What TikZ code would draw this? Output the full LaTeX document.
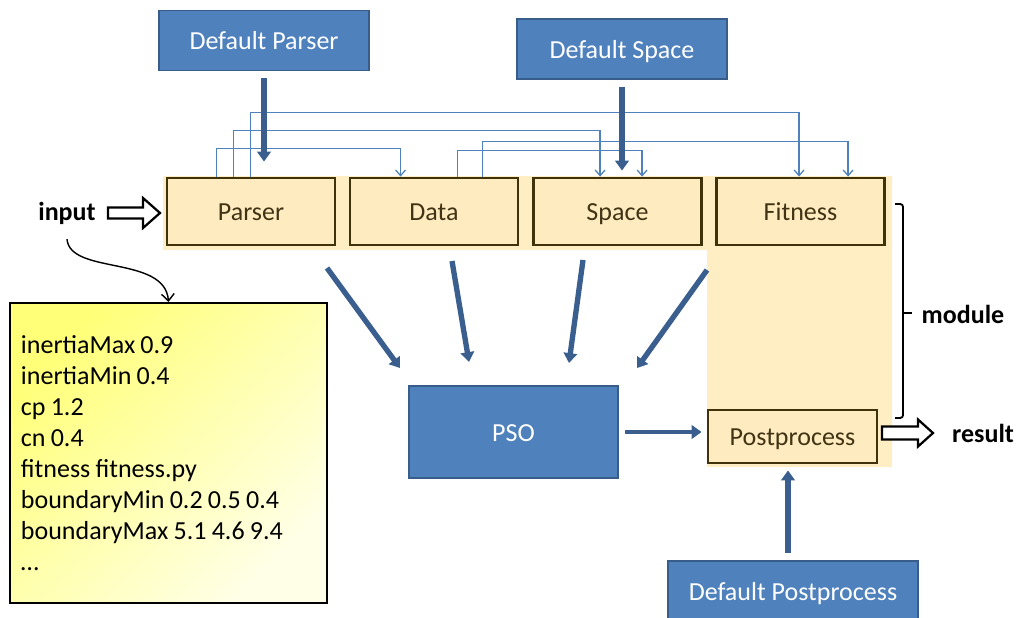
\documentclass[tikz,border=0pt]{standalone}
\usepackage{fontspec}
\setmainfont{Carlito}
\usetikzlibrary{arrows.meta,calc}

\definecolor{boxblue}{RGB}{79,129,189}
\definecolor{edgeblue}{RGB}{56,93,138}
\definecolor{feedblue}{RGB}{58,95,142}
\definecolor{linkblue}{RGB}{79,129,189}
\definecolor{band}{RGB}{255,238,196}
\definecolor{modfill}{RGB}{254,235,192}
\definecolor{modedge}{RGB}{64,50,10}
\definecolor{modtext}{RGB}{64,52,20}
\definecolor{notetop}{RGB}{255,255,120}
\definecolor{notebot}{RGB}{255,255,232}

\tikzset{
  txt/.style={font=\fontsize{18.5}{22}\selectfont},
  defbox/.style={txt,draw=edgeblue,fill=boxblue,line width=1.4pt,text=white,
    minimum width=5.25cm,minimum height=1.5cm,text height=17pt,text depth=4pt},
  modbox/.style={txt,draw=modedge,fill=modfill,line width=2pt,text=modtext,
    minimum width=4.2cm,minimum height=1.675cm,text height=17pt,text depth=4pt},
  note/.style={txt,draw=black,line width=1.4pt,top color=notetop,bottom color=notebot,
    shading angle=45,minimum width=7.925cm,minimum height=7.5cm,
    text width=7.375cm,inner xsep=0.275cm,align=left},
  link/.style={draw=linkblue,line width=0.9pt,-{Straight Barb[length=4pt,width=7pt]}},
  feed/.style={draw=feedblue,line width=3.8pt,-{Triangle[length=7pt,width=9.5pt]}},
  hollow/.style={draw=black,fill=white,line width=1.6pt,line join=miter},
  lbl/.style={font=\bfseries\fontsize{18.5}{22}\selectfont}
}

\begin{document}
\begin{tikzpicture}[x=0.025cm,y=-0.025cm]
  \useasboundingbox (0,0) rectangle (1017,617);
  \clip (0,0) rectangle (1017,617);

  % module area behind the boxes
  \fill[band] (163,176) -- (892,176) -- (892,467) -- (707,467) -- (707,250) -- (163,250) -- cycle;

  \node[defbox] (dparser) at (264,40.5) {Default Parser};
  \node[defbox] (dspace) at (622,49) {Default Space};
  \node[defbox,minimum width=6.25cm] (dpost) at (793,591) {Default Postprocess};

  \node[modbox] (parser) at (251,211.5) {Parser};
  \node[modbox] (data) at (434,211.5) {Data};
  \node[modbox] (space) at (617.5,211.5) {Space};
  \node[modbox] (fitness) at (800.5,211.5) {Fitness};
  \node[modbox,minimum width=4.225cm,minimum height=1.325cm] (post) at (792.5,436.5) {Postprocess};

  \node[defbox,minimum width=5.225cm,minimum height=2.3cm] (pso) at (513.5,432) {PSO};

  \node[note] (cfg) at (168.5,453) {\spaceskip=0.2em
    inertiaMax 0.9\\inertiaMin 0.4\\cp 1.2\\cn 0.4\\
    fitness fitness.py\\boundaryMin 0.2 0.5 0.4\\boundaryMax 5.1 4.6 9.4\\…};

  \node[lbl] (input) at (67,213) {input};
  \node[lbl] (result) at (983,433) {result};
  \node[lbl] (module) at (963,314) {module};

  % links between modules
  \draw[link] ($(parser.north west)+(51,0)$) -- ++(0,-28) -| ($(data.north west)+(52,0)$); %parser-data
  \draw[link] ($(parser.north west)+(68,0)$) -- ++(0,-46) -| ($(space.north west)+(68,0)$); %parser-space
  \draw[link] ($(parser.north west)+(85,0)$) -- ++(0,-64) -| ($(fitness.north west)+(84,0)$); %parser-fitness
  \draw[link] ($(data.north west)+(109,0)$) -- ++(0,-26) -| ($(space.north west)+(110,0)$); %data-space
  \draw[link] ($(data.north west)+(134,0)$) -- ++(0,-35) -| ($(fitness.north west)+(133,0)$); %data-fitness

  % defaults into modules
  \draw[feed,shorten <=0.175cm,shorten >=0.375cm] (dparser.south) -- (dparser.south |- parser.north);
  \draw[feed,shorten <=0.175cm,shorten >=0.15cm] (dspace.south) -- (dspace.south |- space.north);
  \draw[feed,shorten <=0.175cm,shorten >=0.15cm] (dpost.north -| 788,0) -- (post.south -| 788,0);

  % modules into pso
  \coordinate (parserout) at (327,268);
  \coordinate (dataout) at (452,261);
  \coordinate (spaceout) at (583,260);
  \coordinate (fitnessout) at (707,270);
  \coordinate (psoin1) at (400,368);
  \coordinate (psoin2) at (469,362);
  \coordinate (psoin3) at (569,363);
  \coordinate (psoin4) at (637,368);
  \draw[feed] (parserout) -- (psoin1);
  \draw[feed] (dataout) -- (psoin2);
  \draw[feed] (spaceout) -- (psoin3);
  \draw[feed] (fitnessout) -- (psoin4);
  \draw[feed,line width=3.2pt,shorten <=0.15cm,shorten >=0.125cm] (pso.east) -- (pso.east -| post.west);

  % input and result
  \coordinate (inarr) at (108,213);
  \coordinate (outarr) at (882,433);
  \draw[hollow] (inarr) ++(0,-5.5) -- ++(35,0) -- ++(0,-9.5) -- ++(17,15) -- ++(-17,15)
    -- ++(0,-9.5) -- ++(-35,0) -- cycle;
  \draw[hollow] (outarr) ++(0,-6.5) -- ++(36,0) -- ++(0,-7) -- ++(15,13.5) -- ++(-15,13.5)
    -- ++(0,-7) -- ++(-36,0) -- cycle;
  \draw[line width=1pt,-{Straight Barb[length=5pt,width=9pt]}] ($(input.south)+(0,10)$)
    .. controls (70,275) and (165,255) .. (cfg.north);

  % bracket round the modules
  \draw[line width=1.3pt,rounded corners=2pt] (895,204) -- (903,204) -- (903,418) -- (895,418);
  \draw[line width=1.3pt] (903,313) -- (912,313);
\end{tikzpicture}
\end{document}
